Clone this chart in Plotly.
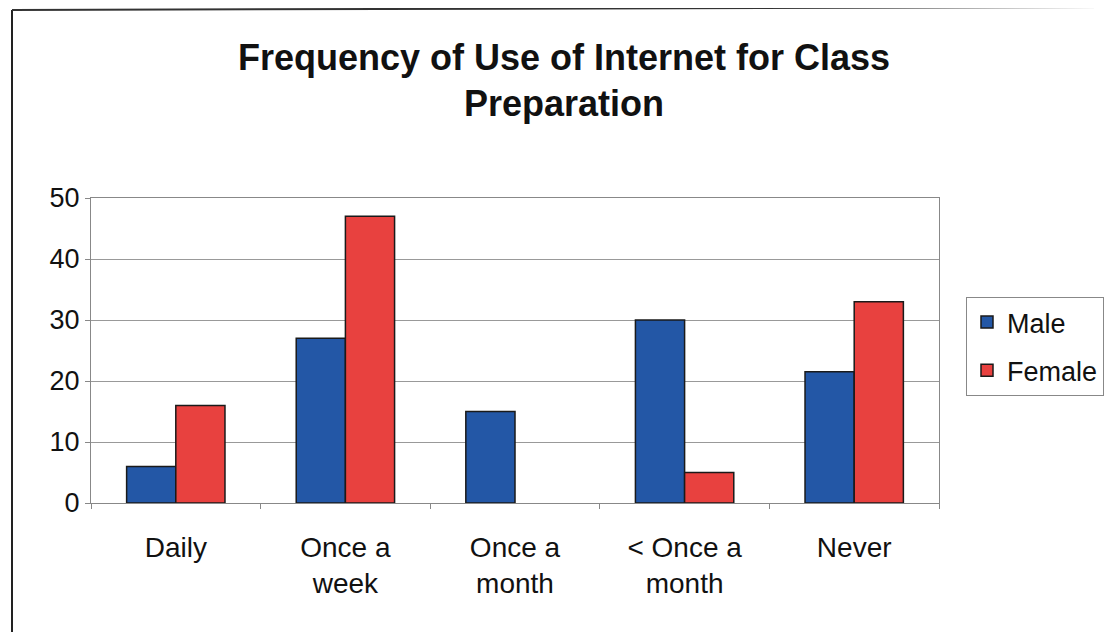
import plotly.graph_objects as go

categories = ["Daily", "Once a<br>week", "Once a<br>month", "< Once a<br>month", "Never"]
male = [6, 27, 15, 30, 21.5]
female = [16, 47, 0, 5, 33]
y_ticks = [0, 10, 20, 30, 40, 50]

FONT = "Liberation Sans, Arial, sans-serif"
OFF = 8  # default page body margin

def outline(vals):
    return [1.5 if v else 0 for v in vals]

fig = go.Figure()
fig.add_trace(go.Bar(name="Male", x=categories, y=male, legendgroup="m",
                     marker=dict(color="#2357A6", line=dict(color="#1a1a1a", width=outline(male)))))
fig.add_trace(go.Bar(name="Female", x=categories, y=female, legendgroup="f",
                     marker=dict(color="#E8413F", line=dict(color="#1a1a1a", width=outline(female)))))

FW, FH = 1112 - OFF, 632 - OFF
# plot area in screen pixels: x 91..939, y 198..503
L, R = 91 - OFF, FW - (939 - OFF)
T, B = 198 - OFF, FH - (503 - OFF)
W, H = 939 - 91, 503 - 198

def px(x):
    return (x - 91) / W

def py(y):
    return (503 - y) / H

fig.update_layout(
    width=FW, height=FH,
    margin=dict(l=L, r=R, t=T, b=B, autoexpand=False),
    paper_bgcolor="white", plot_bgcolor="white",
    barmode="group", bargap=0.42, bargroupgap=0,
    font=dict(family=FONT, color="#111111"),
    showlegend=True,
    legend=dict(x=px(966), y=py(297), xanchor="left", yanchor="top",
                bordercolor="#888888", borderwidth=1, bgcolor="white",
                font=dict(size=27, family=FONT, color="#111111"),
                itemwidth=30, tracegroupgap=10),
    xaxis=dict(showgrid=False, showline=True, linecolor="#888888", linewidth=1,
               mirror=True, ticks="outside", tickson="boundaries", ticklen=5,
               tickcolor="#888888", tickfont=dict(size=28, family=FONT, color="#111111"),
               ticklabelstandoff=19),
    yaxis=dict(range=[0, 50], tickvals=y_ticks, showgrid=True, gridcolor="#999999",
               gridwidth=1, showline=True, linecolor="#888888", linewidth=1, mirror=True,
               ticks="outside", ticklen=5, tickcolor="#888888",
               tickfont=dict(size=27, family=FONT, color="#111111"), zeroline=False),
    annotations=[
        dict(text="<b>Frequency of Use of Internet for Class</b>", xref="paper", yref="paper",
             x=px(564), y=py(58), xanchor="center", yanchor="middle", showarrow=False,
             font=dict(size=36, family=FONT, color="#111111")),
        dict(text="<b>Preparation</b>", xref="paper", yref="paper",
             x=px(564), y=py(103), xanchor="center", yanchor="middle", showarrow=False,
             font=dict(size=36, family=FONT, color="#111111")),
    ],
    shapes=[
        dict(type="line", xref="paper", yref="paper", x0=px(12), x1=px(12), y0=py(10), y1=py(640),
             line=dict(color="#222222", width=2)),
        dict(type="line", xref="paper", yref="paper", x0=px(12), x1=px(1112), y0=py(10), y1=py(7),
             line=dict(color="#333333", width=2)),
    ],
)

fig.write_html("out.html")
